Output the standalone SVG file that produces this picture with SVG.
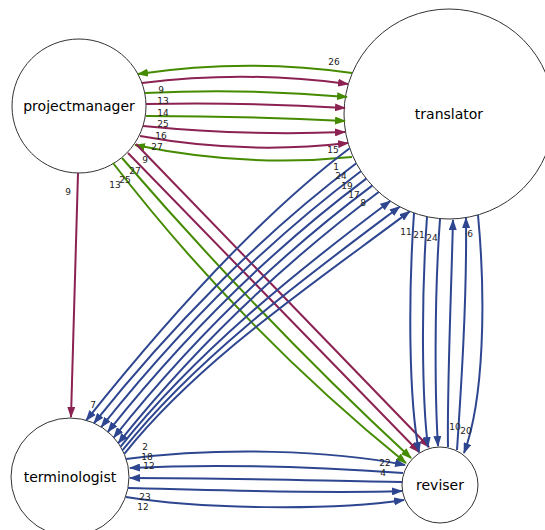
<svg xmlns="http://www.w3.org/2000/svg" width="545" height="530" viewBox="0 0 545 530">
<style>
.node circle{fill:#fff;stroke:#333;stroke-width:1}
.node text{font-family:"DejaVu Sans",sans-serif;font-size:14px;text-anchor:middle;fill:#000}
.e{fill:none;stroke-width:2}
.p{stroke:#8B2252}
.g{stroke:#458B00}
.b{stroke:#2E4690}
.lbl{font-family:"DejaVu Sans",sans-serif;font-size:9px;text-anchor:middle;fill:#222}
</style>
<defs>
<marker id="ap" markerUnits="userSpaceOnUse" markerWidth="11" markerHeight="8" refX="10" refY="4" orient="auto"><path d="M0,0 L11,4 L0,8 z" fill="#8B2252"/></marker>
<marker id="ag" markerUnits="userSpaceOnUse" markerWidth="11" markerHeight="8" refX="10" refY="4" orient="auto"><path d="M0,0 L11,4 L0,8 z" fill="#458B00"/></marker>
<marker id="ab" markerUnits="userSpaceOnUse" markerWidth="11" markerHeight="8" refX="10" refY="4" orient="auto"><path d="M0,0 L11,4 L0,8 z" fill="#2E4690"/></marker>
</defs>
<g id="nodes">
<g id="projectmanager" class="node"><circle cx="79" cy="106" r="67"/><text x="79" y="111">projectmanager</text></g>
<g id="translator" class="node"><circle cx="449" cy="114" r="105"/><text x="449" y="119">translator</text></g>
<g id="terminologist" class="node"><circle cx="70" cy="477" r="59"/><text x="70" y="482">terminologist</text></g>
<g id="reviser" class="node"><circle cx="440" cy="485" r="38"/><text x="440" y="490">reviser</text></g>
</g>
<g id="connectors">
<!-- projectmanager <-> translator -->
<path class="e g" d="M352,73 Q247,58 138,74" marker-end="url(#ag)"/>
<path class="e p" d="M142,83 Q245,70 348,84" marker-end="url(#ap)"/>
<path class="e g" d="M145,93 Q246,88 347,97" marker-end="url(#ag)"/>
<path class="e p" d="M146,104 Q246,102 345,108" marker-end="url(#ap)"/>
<path class="e g" d="M146,116 Q246,116 345,121" marker-end="url(#ag)"/>
<path class="e p" d="M143,126 Q245,136 345,132" marker-end="url(#ap)"/>
<path class="e p" d="M140,136 Q245,155 348,143" marker-end="url(#ap)"/>
<path class="e g" d="M352,157 Q245,168 135,145" marker-end="url(#ag)"/>
<!-- projectmanager -> reviser -->
<path class="e p" d="M136,144 L429,447" marker-end="url(#ap)"/>
<path class="e p" d="M128,153 L419,452" marker-end="url(#ap)"/>
<path class="e g" d="M122,158 Q265,323 411,458" marker-end="url(#ag)"/>
<path class="e g" d="M113,163 Q242,330 406,463" marker-end="url(#ag)"/>
<!-- projectmanager -> terminologist -->
<path class="e p" d="M78,173 L71,417" marker-end="url(#ap)"/>
<!-- translator -> terminologist -->
<path class="e b" d="M349.7,148.2 C253.7,220.2 161.3,326.3 86.3,420.3" marker-end="url(#ab)"/>
<path class="e b" d="M356.3,163.3 C260.3,235.3 169,329.1 94,423.1" marker-end="url(#ab)"/>
<path class="e b" d="M360.9,171.2 C264.9,243.2 176.3,333 101.3,427" marker-end="url(#ab)"/>
<path class="e b" d="M366.3,178.6 C270.3,250.6 182.9,337.8 107.9,431.8" marker-end="url(#ab)"/>
<path class="e b" d="M372.2,185.6 C276.2,257.6 188.8,343.5 113.8,437.5" marker-end="url(#ab)"/>
<path class="e b" d="M378.7,192 C282.7,264 193.3,349.2 118.3,443.2" marker-end="url(#ab)"/>
<!-- terminologist -> translator -->
<path class="e b" d="M120.6,446.6 C195.6,352.6 294.3,273 390.3,201" marker-end="url(#ab)"/>
<path class="e b" d="M122.6,450.2 C197.6,356.2 303.7,278.7 399.7,206.7" marker-end="url(#ab)"/>
<path class="e b" d="M124.3,453.9 C199.3,359.9 313.7,283.4 409.7,211.4" marker-end="url(#ab)"/>
<!-- translator <-> reviser -->
<path class="e b" d="M414,213 C408,300 409,400 419,452" marker-end="url(#ab)"/>
<path class="e b" d="M427,217 C421,300 422,400 428,447" marker-end="url(#ab)"/>
<path class="e b" d="M440,219 C434,300 435,400 438,446" marker-end="url(#ab)"/>
<path class="e b" d="M448,447 C447,390 451,300 453,220" marker-end="url(#ab)"/>
<path class="e b" d="M457,450 C461,390 467,300 466,218" marker-end="url(#ab)"/>
<path class="e b" d="M478,215 C486,300 484,400 464,453" marker-end="url(#ab)"/>
<!-- terminologist <-> reviser -->
<path class="e b" d="M126,459 C220,447 330,450 405,465" marker-end="url(#ab)"/>
<path class="e b" d="M403,473 C330,468 230,463 130,468" marker-end="url(#ab)"/>
<path class="e b" d="M402,482 C330,481 230,478 130,478" marker-end="url(#ab)"/>
<path class="e b" d="M128,488 C220,490 320,494 402,491" marker-end="url(#ab)"/>
<path class="e b" d="M126,497 C200,509 330,511 404,500" marker-end="url(#ab)"/>
</g>
<g id="labels">
<text class="lbl" x="334" y="65">26</text>
<text class="lbl" x="161" y="93">9</text>
<text class="lbl" x="163" y="104">13</text>
<text class="lbl" x="163" y="116">14</text>
<text class="lbl" x="163" y="127">25</text>
<text class="lbl" x="161" y="139">16</text>
<text class="lbl" x="157" y="150">27</text>
<text class="lbl" x="145" y="163">9</text>
<text class="lbl" x="135" y="174">27</text>
<text class="lbl" x="125" y="183">25</text>
<text class="lbl" x="115" y="188">13</text>
<text class="lbl" x="68" y="195">9</text>
<text class="lbl" x="333" y="153">15</text>
<text class="lbl" x="336" y="170">1</text>
<text class="lbl" x="341" y="179">24</text>
<text class="lbl" x="347" y="189">19</text>
<text class="lbl" x="354" y="198">17</text>
<text class="lbl" x="363" y="206">8</text>
<text class="lbl" x="406" y="235">11</text>
<text class="lbl" x="419" y="238">21</text>
<text class="lbl" x="432" y="241">24</text>
<text class="lbl" x="470" y="237">6</text>
<text class="lbl" x="93" y="408">7</text>
<text class="lbl" x="455" y="430">10</text>
<text class="lbl" x="466" y="434">20</text>
<text class="lbl" x="385" y="466">22</text>
<text class="lbl" x="383" y="476">4</text>
<text class="lbl" x="145" y="450">2</text>
<text class="lbl" x="147" y="460">18</text>
<text class="lbl" x="149" y="469">12</text>
<text class="lbl" x="145" y="500">23</text>
<text class="lbl" x="143" y="510">12</text>
</g>
</svg>
